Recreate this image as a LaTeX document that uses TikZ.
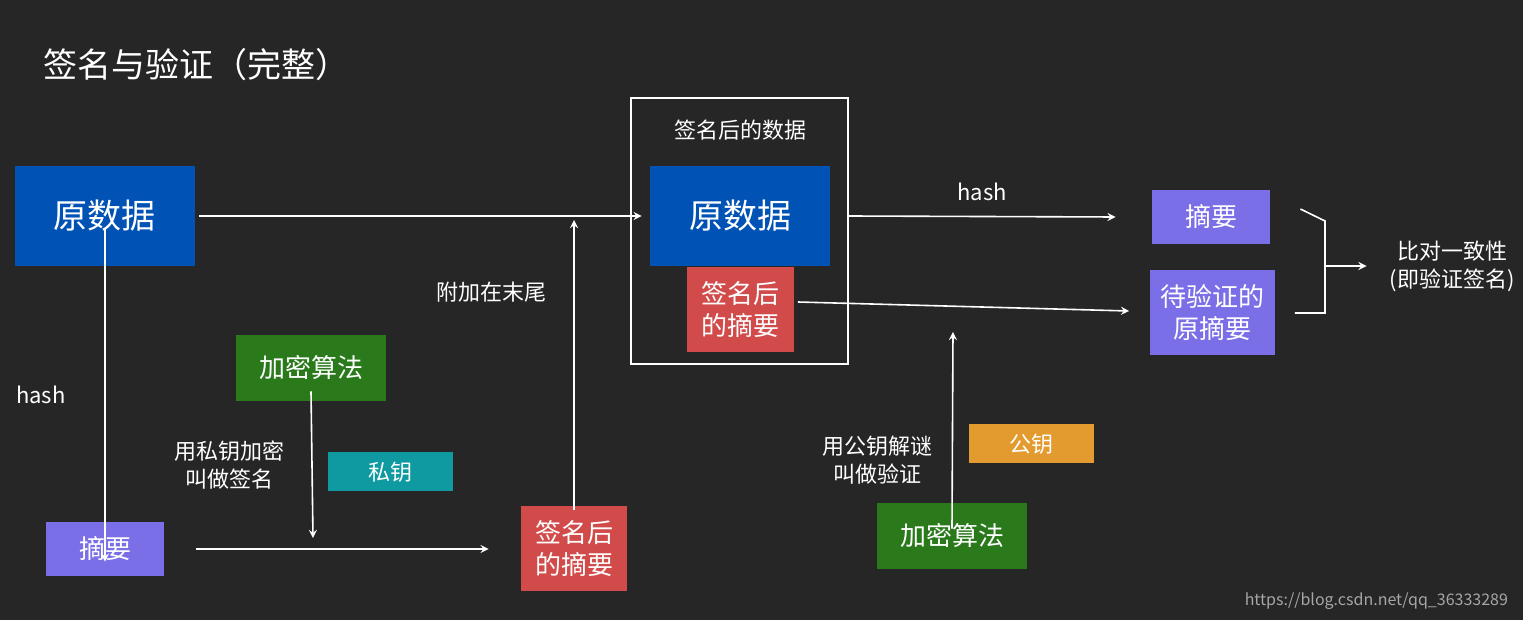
\documentclass[tikz,border=0pt]{standalone}
\usepackage{fontspec}
\setmainfont{Noto Sans CJK SC}
\usetikzlibrary{positioning}
\definecolor{bg}{HTML}{262626}
\definecolor{cblue}{HTML}{0052B4}
\definecolor{cred}{HTML}{D24B4B}
\definecolor{cpurple}{HTML}{7B6FE8}
\definecolor{cgreen}{HTML}{2A7A1C}
\definecolor{cteal}{HTML}{0E9AA0}
\definecolor{corange}{HTML}{E39A2E}
\begin{document}
\begin{tikzpicture}[x=0.5pt, y=-0.5pt,
    box/.style={text=white, inner sep=0pt, align=center, font=\fontsize{13}{16}\selectfont},
    big/.style={box, font=\fontsize{17}{20}\selectfont},
    lbl/.style={text=white, align=center, font=\fontsize{11}{14}\selectfont},
    arr/.style={->, >=stealth, white, line width=0.8pt}]
	\fill[bg] (0,0) rectangle (1523,620);
	\useasboundingbox (0,0) rectangle (1523,620);
	\node [text=white, anchor=west, font=\fontsize{17}{20}\selectfont] (title) at (36,65) {签名与验证（完整）};
	\draw [white, line width=0.8pt] (631,98) rectangle (848,364);
	\node [lbl] (frame) at (740,130) {签名后的数据};

	\node [big, fill=cblue, minimum width=90pt, minimum height=50pt] (A) at (105,216) {原数据};
	\node [big, fill=cblue, minimum width=90pt, minimum height=50pt] (B) at (740,216) {原数据};
	\node [box, fill=cred, minimum width=53.5pt, minimum height=42.5pt] (S) at (740,310) {签名后\\的摘要};
	\node [box, fill=cpurple, minimum width=59pt, minimum height=27pt] (D) at (105,549) {摘要};
	\node [box, fill=cred, minimum width=53pt, minimum height=42.5pt] (T) at (574,549) {签名后\\的摘要};
	\node [box, fill=cgreen, minimum width=75pt, minimum height=33pt] (E) at (311,368) {加密算法};
	\node [lbl, fill=cteal, minimum width=62.5pt, minimum height=19.5pt, inner sep=0pt] (K) at (390,472) {私钥};
	\node [box, fill=cgreen, minimum width=75pt, minimum height=33pt] (F) at (952,536) {加密算法};
	\node [lbl, fill=corange, minimum width=62.5pt, minimum height=19.5pt, inner sep=0pt] (P) at (1031,444) {公钥};
	\node [box, fill=cpurple, minimum width=59pt, minimum height=27pt] (G) at (1211,217) {摘要};
	\node [box, fill=cpurple, minimum width=62.5pt, minimum height=42.5pt] (H) at (1212,313) {待验证的\\原摘要};
	\node [lbl] (R) at (1452,266) {比对一致性\\(即验证签名)};

	\coordinate (c1) at (313,538);
	\coordinate (c2) at (574,220);
	\coordinate (c3) at (953,332);
	\coordinate (j1) at (1325,221);
	\coordinate (j2) at (1325,313);
	\coordinate (j3) at (1325,266);

	\draw [arr] (A.east) ++(4,0) -- ([xshift=-4]B.west) node [pos=0] (dummy) {};
	\draw [arr] ([xshift=9]B.east) -- node [lbl, above=4pt] {hash} ([xshift=-18]G.west);
	\draw [arr] ([yshift=19]A.south) -- node [lbl, left=16pt] {hash} ([yshift=-20]D.north);
	\draw [arr] ([xshift=16]D.east) -- ([xshift=-16]T.west);
	\draw [arr] ([yshift=5]E.south) -- node [lbl, left=10pt, pos=0.5] {用私钥加密\\叫做签名} (c1);
	\draw [arr] ([yshift=-2]T.north) -- node [lbl, left=10pt, pos=0.75] {附加在末尾} (c2);
	\draw [arr] ([xshift=2,yshift=4]S.east) -- ([xshift=-10,yshift=1]H.west);
	\draw [arr] ([yshift=-13]F.north) -- node [lbl, left=6pt, pos=0.35] {用公钥解谜\\叫做验证} (c3);
	\draw [white, line width=0.8pt] ([xshift=15,yshift=4]G.east) -- (j1) -- (j2) -- ([xshift=10]H.east);
	\draw [arr] (j3) -- ([xshift=-8]R.west);

	\node [text=gray!70, font=\fontsize{8}{10}\selectfont, anchor=east] (url) at (1515,601) {https://blog.csdn.net/qq\_36333289};
\end{tikzpicture}
\end{document}
